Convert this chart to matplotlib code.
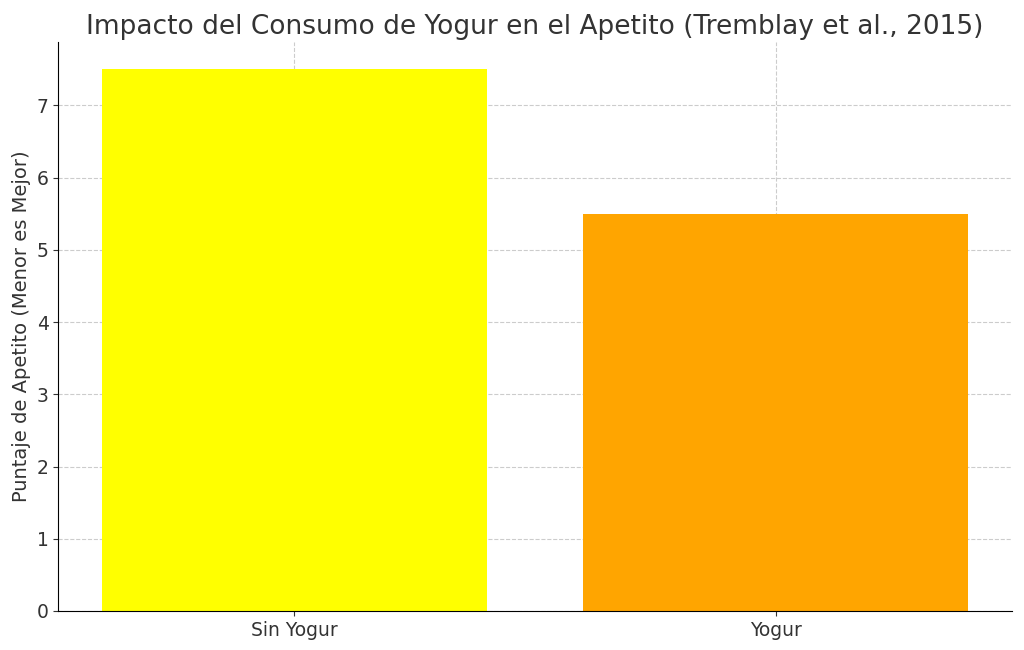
import matplotlib
matplotlib.use("Agg")
import matplotlib.pyplot as plt

categories = ["Sin Yogur", "Yogur"]
appetite_scores = [7.5, 5.5]
bar_colors = ["yellow", "orange"]

fig = plt.figure(figsize=(10.24, 6.5), dpi=100)
ax = fig.add_axes([0.057, 0.06, 0.931, 0.875])

ax.bar(categories, appetite_scores, color=bar_colors, zorder=2)
ax.set_title("Impacto del Consumo de Yogur en el Apetito (Tremblay et al., 2015)",
             fontsize=19, color="#333333")
ax.set_ylabel("Puntaje de Apetito (Menor es Mejor)", fontsize=14, color="#333333")
ax.tick_params(labelsize=13.5, colors="#333333")
ax.grid(True, linestyle="--", color="#cccccc", linewidth=0.8, zorder=0)
ax.set_axisbelow(True)
for side in ("top", "right"):
    ax.spines[side].set_visible(False)

fig.savefig("out.png", dpi=100)
plt.close(fig)
